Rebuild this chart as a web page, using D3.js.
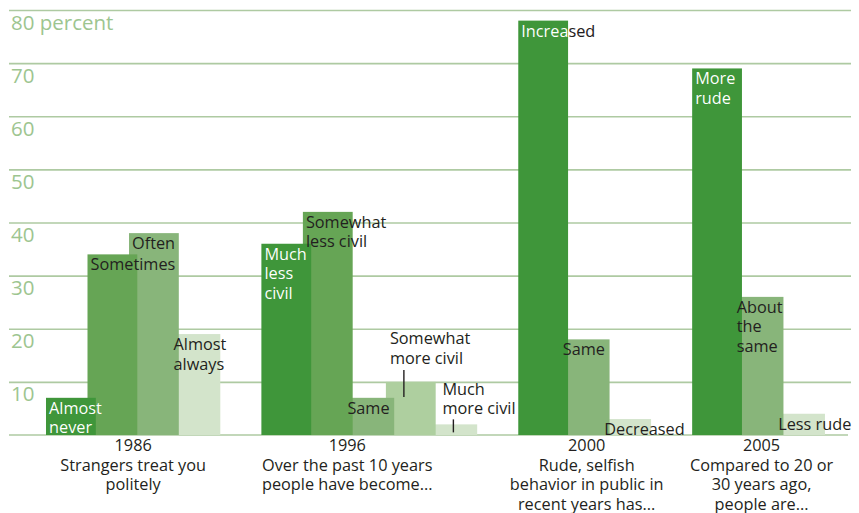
<!DOCTYPE html>
<html>
<head>
<meta charset="utf-8">
<script src="https://cdn.jsdelivr.net/npm/d3@7"></script>
<style>
  html, body { margin: 0; padding: 0; background: #ffffff; }
  svg { display: block; }
  text { font-family: "Open Sans", "Noto Sans", sans-serif; }
</style>
</head>
<body>
<script>
// ---------------- DATA ----------------
const years = ["1986", "1996", "2000", "2005"];
const questions = [
  "Strangers treat you\npolitely",
  "Over the past 10 years\npeople have become...",
  "Rude, selfish\nbehavior in public in\nrecent years has...",
  "Compared to 20 or\n30 years ago,\npeople are..."
];
const answers1986 = ["Almost\nnever", "Sometimes", "Often", "Almost\nalways"];
const values1986  = [7, 34, 38, 19];
const answers1996 = ["Much\nless\ncivil", "Somewhat\nless civil", "Same", "Somewhat\nmore civil", "Much\nmore civil"];
const values1996  = [36, 42, 7, 10, 2];
const answers2000 = ["Increased", "Same", "Decreased"];
const values2000  = [78, 18, 3];
const answers2005 = ["More\nrude", "About\nthe\nsame", "Less rude"];
const values2005  = [69, 26, 4];
const yTickValues = [10, 20, 30, 40, 50, 60, 70, 80];
const yTickLabels = ["10", "20", "30", "40", "50", "60", "70", "80 percent"];

const groupAnswers = [answers1986, answers1996, answers2000, answers2005];
const groupValues  = [values1986, values1996, values2000, values2005];

// ---------------- LAYOUT / STYLE ----------------
const W = 859, H = 513;
const palette = ["#3f963a", "#66a555", "#88b57a", "#aecf9f", "#d3e4cb"];
const gridColor = "#aecaa2";
const tickColor = "#9dc590";
const textColor = "#231f20";
const groupGap = 1.19;     // empty slots between groups
const barSlots = 1.2;      // bar width in slot units (bars overlap)
const labelDx = [0, -22, 2, 3];
const callouts = {
  "1|3": { textDx: 4, lastAbove: 18, leaderDx: 18, leaderFrom: -12, leaderTo: 15 },
  "1|4": { textDx: 15, lastAbove: 10, leaderDx: 26, leaderFrom: -5, leaderTo: 8 }
};
const lineH = 19.5;
const fontPx = "16.3px";

const svg = d3.select("body").append("svg").attr("width", W).attr("height", H);

const y = d3.scaleLinear().domain([0, 80]).range([435, 10]);
const slot = d3.scaleLinear().domain([0, 1]).range([46, 87.5]);
const barW = slot(barSlots) - slot(0);

// gridlines + tick labels via axis
const axis = d3.axisRight(y).tickValues(yTickValues)
  .tickFormat((d, i) => yTickLabels[i]).tickSize(842);
const ag = svg.append("g").attr("transform", "translate(9,0)").call(axis);
ag.select(".domain").remove();
ag.selectAll(".tick line").attr("stroke", gridColor).attr("stroke-width", 1.6);
ag.selectAll(".tick text")
  .attr("x", 2).attr("dy", null).attr("y", 19)
  .attr("text-anchor", "start")
  .attr("fill", tickColor)
  .style("font-size", "20.5px");
ag.attr("font-family", null).attr("font-size", null);

// zero line
svg.append("line")
  .attr("x1", 9).attr("x2", 848)
  .attr("y1", y(0)).attr("y2", y(0))
  .attr("stroke", gridColor).attr("stroke-width", 1.6);

// compute bars
const bars = [];
let start = 0;
groupValues.forEach((vals, g) => {
  const n = vals.length;
  vals.forEach((v, i) => {
    bars.push({
      g, i, n, v,
      label: groupAnswers[g][i],
      x: slot(start + i),
      color: palette[Math.floor(i / (n - 1) * 4)]
    });
  });
  start += n + groupGap;
});

const defs = svg.append("defs");
const barLayer = svg.append("g");
// draw in reverse order so earlier bars sit on top
barLayer.selectAll("rect")
  .data(bars.slice().reverse())
  .join("rect")
  .attr("x", d => d.x)
  .attr("y", d => y(d.v))
  .attr("width", barW)
  .attr("height", d => y(0) - y(d.v))
  .attr("fill", d => d.color);

// labels
const labelLayer = svg.append("g").style("font-size", fontPx);
bars.forEach((d, k) => {
  const lines = d.label.split("\n");
  const key = d.g + "|" + d.i;
  const top = y(d.v);
  let tx, ty;
  const c = callouts[key];
  if (c) {
    tx = d.x + c.textDx;
    ty = top - c.lastAbove - (lines.length - 1) * lineH;
    labelLayer.append("line")
      .attr("x1", d.x + c.leaderDx).attr("x2", d.x + c.leaderDx)
      .attr("y1", top + c.leaderFrom).attr("y2", top + c.leaderTo)
      .attr("stroke", textColor).attr("stroke-width", 1.4);
  } else {
    tx = d.x + 3;
    ty = top + 16;
  }
  let fill = textColor;
  if (d.color === palette[0]) {
    // white over coloured bars, dark where the text runs onto the background
    let edge = d.x + barW;
    bars.filter(b => b.g === d.g && b.i > d.i).forEach(b => {
      if (y(b.v) <= ty - 12 && b.x <= edge) edge = Math.max(edge, b.x + barW);
    });
    const gid = "g" + k;
    const grad = defs.append("linearGradient").attr("id", gid)
      .attr("gradientUnits", "userSpaceOnUse")
      .attr("x1", 0).attr("x2", W).attr("y1", 0).attr("y2", 0);
    const f = edge / W;
    grad.append("stop").attr("offset", f).attr("stop-color", "#ffffff");
    grad.append("stop").attr("offset", f).attr("stop-color", textColor);
    fill = `url(#${gid})`;
  }
  const t = labelLayer.append("text").attr("x", tx).attr("y", ty).attr("fill", fill);
  lines.forEach((ln, j) => {
    t.append("tspan").attr("x", tx).attr("y", ty + j * lineH).text(ln);
  });
});

// x group labels
const xLabelLayer = svg.append("g").style("font-size", fontPx).attr("fill", textColor)
  .attr("text-anchor", "middle");
years.forEach((yr, g) => {
  const gb = bars.filter(b => b.g === g);
  const cx = (gb[0].x + gb[gb.length - 1].x + barW) / 2 + labelDx[g];
  const lines = [yr].concat(questions[g].split("\n"));
  const t = xLabelLayer.append("text");
  lines.forEach((ln, j) => {
    t.append("tspan").attr("x", cx).attr("y", 451 + j * 19.7).text(ln);
  });
});
</script>
</body>
</html>
